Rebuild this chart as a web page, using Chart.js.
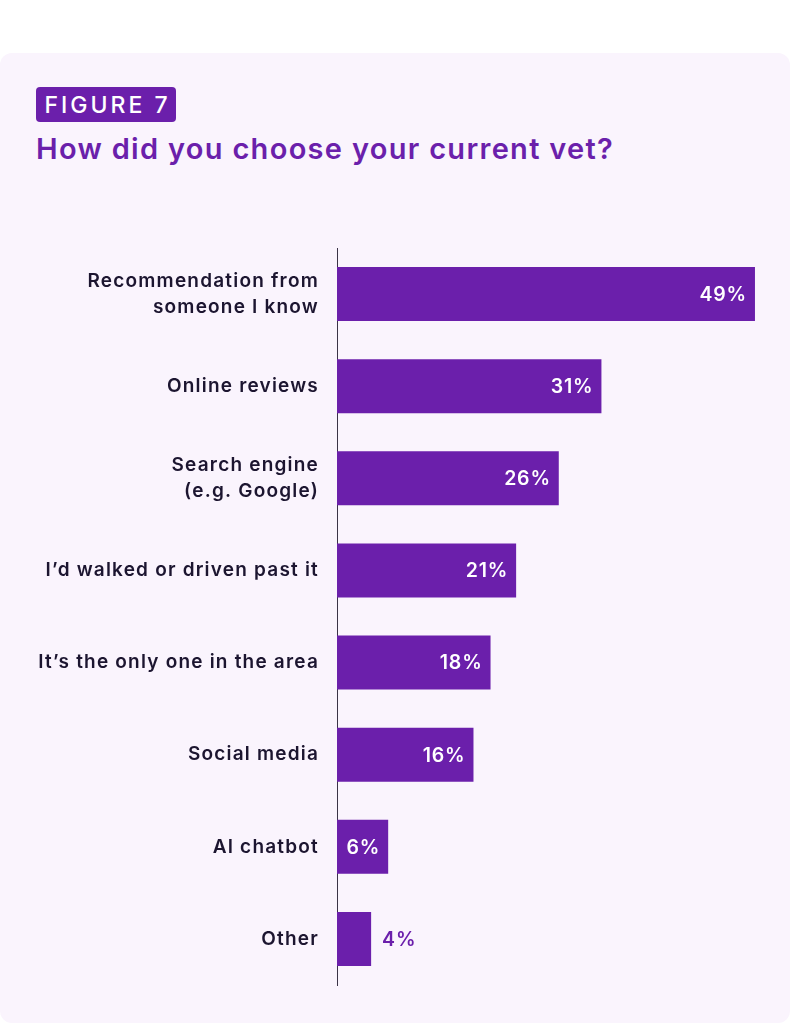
<!DOCTYPE html>
<html lang="en">
<head>
<meta charset="UTF-8">
<title>Figure 7</title>
<script src="https://cdn.jsdelivr.net/npm/chart.js"></script>
<style>
    html, body { margin: 0; padding: 0; background: #ffffff; }
    body { width: 791px; height: 1024px; position: relative; overflow: hidden; font-family: Inter, "Noto Sans", sans-serif; }
    .card { position: absolute; left: 0; top: 53px; width: 790px; height: 970px; background: #faf4fd; border-radius: 12px; }
    .tag { position: absolute; left: 36px; top: 87px; width: 140px; height: 35px; background: #6b1fab; border-radius: 4px;
           color: #fff; font-size: 23px; font-weight: 500; letter-spacing: 3px; text-indent: 3px; line-height: 36px; text-align: center; }
    h1 { position: absolute; left: 36px; top: 131px; margin: 0; color: #6b1fab; font-size: 29px; font-weight: 600; letter-spacing: 1.3px; }
    #wrap { position: absolute; left: 0; top: 0; width: 791px; height: 1024px; }
</style>
</head>
<body>
    <div class="card"></div>
    <div class="tag">FIGURE 7</div>
    <h1>How did you choose your current vet?</h1>
    <div id="wrap"><canvas id="grafico"></canvas></div>

<script>
    // dados do gráfico
    const categorias = [
        ['Recommendation from', 'someone I know'],
        'Online reviews',
        ['Search engine', '(e.g. Google)'],
        'I\u2019d walked or driven past it',
        'It\u2019s the only one in the area',
        'Social media',
        'AI chatbot',
        'Other'
    ];
    const valores = [49, 31, 26, 21, 18, 16, 6, 4];
    const rotulos = ['49%', '31%', '26%', '21%', '18%', '16%', '6%', '4%'];

    const roxo = '#6b1fab';

    // espaçamento das letras (fonte mais larga)
    const espacoPlugin = {
        id: 'espaco',
        beforeDraw(chart) { chart.ctx.letterSpacing = '1.2px'; },
        beforeLayout(chart) { chart.ctx.letterSpacing = '1.2px'; }
    };

    // escreve o valor no fim de cada barra
    const valorPlugin = {
        id: 'valores',
        afterDatasetsDraw(chart) {
            const ctx = chart.ctx;
            const meta = chart.getDatasetMeta(0);
            ctx.save();
            ctx.letterSpacing = '0.8px';
            ctx.font = '600 19.5px Inter, "Noto Sans", sans-serif';
            ctx.textBaseline = 'middle';
            meta.data.forEach((bar, i) => {
                if (valores[i] >= 6) {
                    ctx.fillStyle = '#ffffff';
                    ctx.textAlign = 'right';
                    ctx.fillText(rotulos[i], bar.x - 8, bar.y + 1);
                } else {
                    ctx.fillStyle = roxo;
                    ctx.textAlign = 'left';
                    ctx.fillText(rotulos[i], bar.x + 11, bar.y + 1);
                }
            });
            ctx.restore();
        }
    };

    new Chart(document.getElementById('grafico'), {
        type: 'bar',
        data: {
            labels: categorias,
            datasets: [{
                data: valores,
                backgroundColor: roxo,
                borderWidth: 0,
                barPercentage: 0.586,
                categoryPercentage: 1
            }]
        },
        options: {
            indexAxis: 'y',
            responsive: true,
            maintainAspectRatio: false,
            animation: false,
            layout: { padding: { top: 248, bottom: 39, right: 27.5, left: 0 } },
            plugins: {
                legend: { display: false },
                tooltip: { enabled: false }
            },
            scales: {
                x: {
                    display: false,
                    min: 0,
                    max: 50
                },
                y: {
                    afterFit: function (scale) {
                        scale.width = 337;
                        scale.paddingTop = 0;
                        scale.paddingBottom = 0;
                    },
                    grid: { display: false, drawTicks: false },
                    border: { display: true, color: '#3a3346', width: 1 },
                    ticks: {
                        padding: 18,
                        color: '#1c1530',
                        font: { family: 'Inter, "Noto Sans", sans-serif', size: 19, weight: '600', lineHeight: 1.38 }
                    }
                }
            }
        },
        plugins: [espacoPlugin, valorPlugin]
    });
</script>
</body>
</html>
